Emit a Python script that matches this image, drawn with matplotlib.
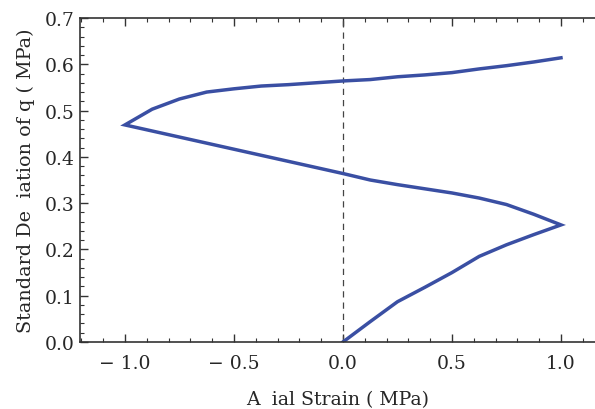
import numpy as np
import matplotlib
matplotlib.use("Agg")
import matplotlib.pyplot as plt
from matplotlib.ticker import FixedLocator, MultipleLocator

# curve, in drawing order
strain = [0.0, 0.125, 0.25, 0.375, 0.5, 0.625, 0.75, 0.875, 1.0,
          0.875, 0.75, 0.625, 0.5, 0.375, 0.25, 0.125, 0.0, -1.0,
          -0.875, -0.75, -0.625, -0.5, -0.375, -0.25, -0.125, 0.0,
          0.125, 0.25, 0.375, 0.5, 0.625, 0.75, 0.875, 1.0]
stdq = [0.0, 0.044, 0.087, 0.118, 0.150, 0.185, 0.210, 0.232, 0.253,
        0.276, 0.297, 0.311, 0.322, 0.331, 0.340, 0.350, 0.364, 0.469,
        0.503, 0.525, 0.540, 0.547, 0.553, 0.556, 0.560, 0.564,
        0.567, 0.573, 0.577, 0.582, 0.590, 0.597, 0.605, 0.614]

xticks = [-1.0, -0.5, 0.0, 0.5, 1.0]
xlabels = ["\u2212 1.0", "\u2212 0.5", "0.0", "0.5", "1.0"]
yticks = [0.0, 0.1, 0.2, 0.3, 0.4, 0.5, 0.6, 0.7]

plt.rcParams['font.family'] = ['DejaVu Serif']
txt = '#262626'

fig = plt.figure(figsize=(5.95, 4.10), dpi=100)
ax = fig.add_axes([80 / 595, 67 / 410, 1 - 80 / 595, 324 / 410])

ax.axvline(0, color='#444444', lw=0.9, ls=(0, (5, 4)))
ax.plot(strain, stdq, color='#3a4fa3', lw=2.5, solid_joinstyle='miter')

ax.set_xlim(-1.206, 1.156)
ax.set_ylim(0, 0.7)

ax.xaxis.set_major_locator(FixedLocator(xticks))
ax.set_xticklabels(xlabels)
ax.xaxis.set_minor_locator(MultipleLocator(0.1))
ax.set_yticks(yticks)
ax.set_yticklabels([f"{v:.1f}" for v in yticks])
ax.yaxis.set_minor_locator(MultipleLocator(0.02))

ax.tick_params(which='both', direction='in', top=True, right=False,
               color='#333333', labelcolor=txt, labelsize=13.5)
ax.tick_params(which='major', length=6, width=1.0)
ax.tick_params(which='minor', length=3, width=0.8)
ax.tick_params(axis='x', pad=9)
ax.tick_params(axis='y', pad=4)
for lab in ax.get_xticklabels() + ax.get_yticklabels():
    lab.set_fontweight('medium')

for s in ['left', 'bottom', 'top']:
    ax.spines[s].set_color('#333333')
    ax.spines[s].set_linewidth(1.2)
ax.spines['right'].set_visible(False)

ax.set_xlabel("A  ial Strain ( MPa)", fontsize=13.6, color=txt, labelpad=13)
ax.set_ylabel("Standard De  iation of q ( MPa)", fontsize=13.8, color=txt, labelpad=7)

fig.savefig("out.png", dpi=100)
